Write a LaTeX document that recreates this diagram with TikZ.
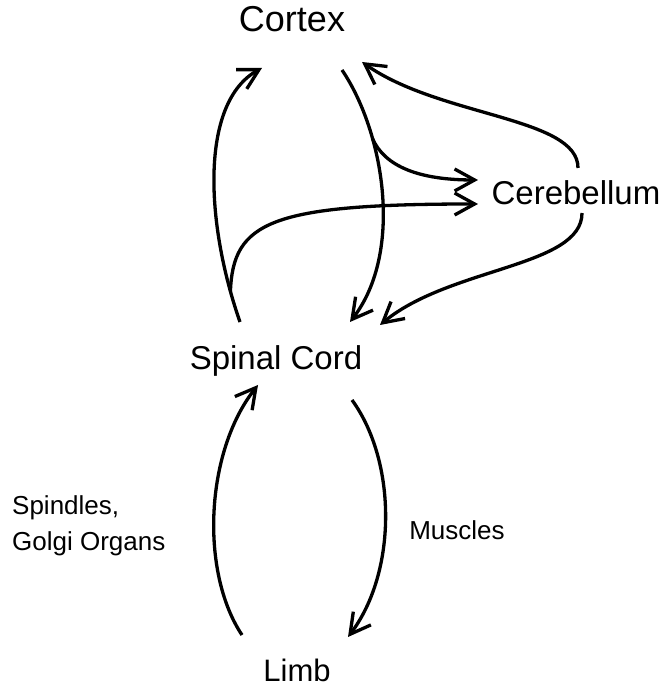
\documentclass[tikz,border=0pt]{standalone}
\usepackage{fontspec}
\setmainfont{Liberation Sans}
\usetikzlibrary{arrows.meta}
\tikzset{
  >={Straight Barb[length=20pt,width=22pt]},
  via/.style={->, line width=3.3pt},
  centro/.style={font=\fontsize{33}{38}\selectfont, inner sep=0pt, anchor=base},
  nota/.style={font=\fontsize{26}{36}\selectfont, inner sep=0pt, align=left},
}

\begin{document}
\begin{tikzpicture}[x=1pt,y=1pt]
  \useasboundingbox (0,0) rectangle (665,692);
  \node[centro, font=\fontsize{36}{40}\selectfont] (cortex) at (292,660) {Cortex};
  \node[centro] (cerebellum) at (576,487) {Cerebellum};
  \node[centro] (cord) at (276,322) {Spinal Cord};
  \node[centro, font=\fontsize{31}{36}\selectfont] (limb) at (297,10) {Limb};
  \node[nota, anchor=west] (sensors) at (12,166) {Spindles,\\Golgi Organs};
  \node[nota, anchor=base] (muscles) at (457,152) {Muscles};
  % up and down between cord and cortex
  \draw[via] ([shift={(-36,48)}]cord.base) .. controls (205,470) and (200,590)
    .. coordinate[pos=0.1] (up) ([shift={(-30,-36)}]cortex.base);
  \draw[via] ([shift={(50,-38)}]cortex.base) .. controls (384,560) and (404,440)
    .. coordinate[pos=0.3] (down) ([shift={(74,48)}]cord.base);
  % side loops to the cerebellum
  \draw[via] (down) .. controls (385,525) and (420,512) .. ([shift={(-98,25)}]cerebellum.base);
  \draw[via] (up) .. controls (233,470) and (270,488) .. ([shift={(-98,1)}]cerebellum.base);
  \draw[via] ([shift={(2,37)}]cerebellum.base) .. controls (578,575) and (440,575)
    .. ([shift={(70,-30)}]cortex.base);
  \draw[via] ([shift={(6,-8)}]cerebellum.base) .. controls (582,425) and (450,425)
    .. ([shift={(104,45)}]cord.base);
  % reflex loop
  \draw[via] ([shift={(-55,47)}]limb.base) .. controls (200,120) and (205,240)
    .. ([shift={(-18,-15)}]cord.base);
  \draw[via] ([shift={(76,-30)}]cord.base) .. controls (397,230) and (397,120)
    .. ([shift={(51,45)}]limb.base);
\end{tikzpicture}
\end{document}
